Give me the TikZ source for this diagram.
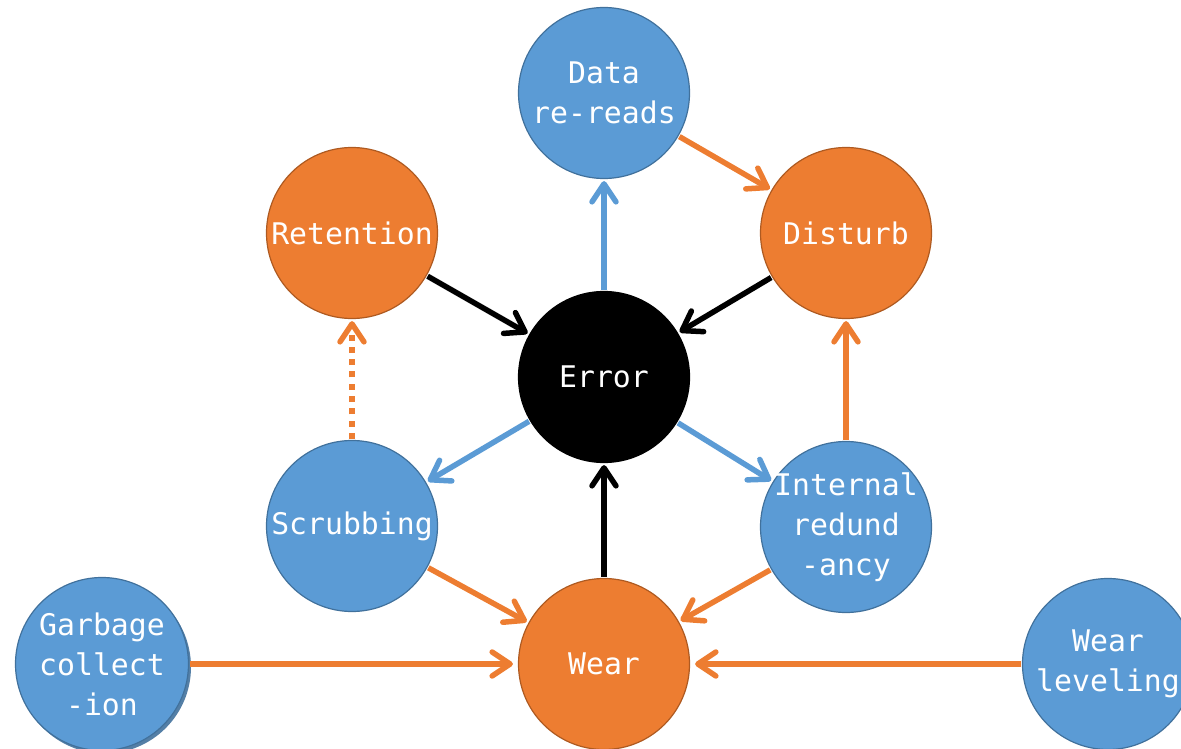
\documentclass[tikz,border=0pt]{standalone}
\usepackage{fontspec}
\setmonofont{DejaVu Sans Mono}
\usetikzlibrary{arrows.meta}
\definecolor{cblue}{HTML}{5B9BD5}
\definecolor{cblueb}{HTML}{41719C}
\definecolor{corange}{HTML}{ED7D31}
\definecolor{coranb}{HTML}{AE5A21}
\begin{document}
\begin{tikzpicture}[x=1pt,y=-1pt,
  circ/.style={circle,minimum size=171pt,inner sep=-20pt,line width=1.2pt,text=white,
    align=center,font=\ttfamily\fontsize{29.8}{40}\selectfont},
  bnode/.style={circ,fill=cblue,draw=cblueb},
  onode/.style={circ,fill=corange,draw=coranb},
  knode/.style={circ,fill=black,draw=black},
  arr/.style={line width=5.5pt,-{Straight Barb[length=18pt,width=24pt,round]},shorten >=2pt,shorten <=1pt},
  barr/.style={arr,draw=cblue},
  oarr/.style={arr,draw=corange},
  karr/.style={arr,draw=black},
  darr/.style={oarr,dash pattern=on 6pt off 6.3pt}]
\useasboundingbox (0,0) rectangle (1181,749);
\node[bnode] (data) at (604,93) {Data\\re-reads};
\node[onode] (ret) at (352,233) {Retention};
\node[onode] (dist) at (846,233) {Disturb};
\node[knode] (err) at (604,377) {Error};
\node[bnode] (scrub) at (352,526) {Scrubbing};
\node[bnode] (ir) at (846,527) {Internal\\redund\\-ancy};
\node[onode] (wear) at (604,664) {Wear};
\fill[cblueb!90] (104.5,667) circle (86.5pt);
\node[bnode,minimum size=173pt] (gc) at (102,664) {Garbage\\collect\\-ion};
\node[bnode] (wl) at (1108,664) {Wear\\leveling};
\draw[barr] (err) -- (data);
\draw[oarr] (data) -- (dist);
\draw[karr] (ret) -- (err);
\draw[karr] (dist) -- (err);
\draw[barr] (err) -- (scrub);
\draw[barr] (err) -- (ir);
\draw[darr] (scrub) -- (ret);
\draw[oarr] (ir) -- (dist);
\draw[karr] (wear) -- (err);
\draw[oarr] (scrub) -- (wear);
\draw[oarr] (ir) -- (wear);
\draw[oarr,shorten >=5pt] (gc) -- (wear);
\draw[oarr,shorten >=5pt] (wl) -- (wear);
\end{tikzpicture}
\end{document}
